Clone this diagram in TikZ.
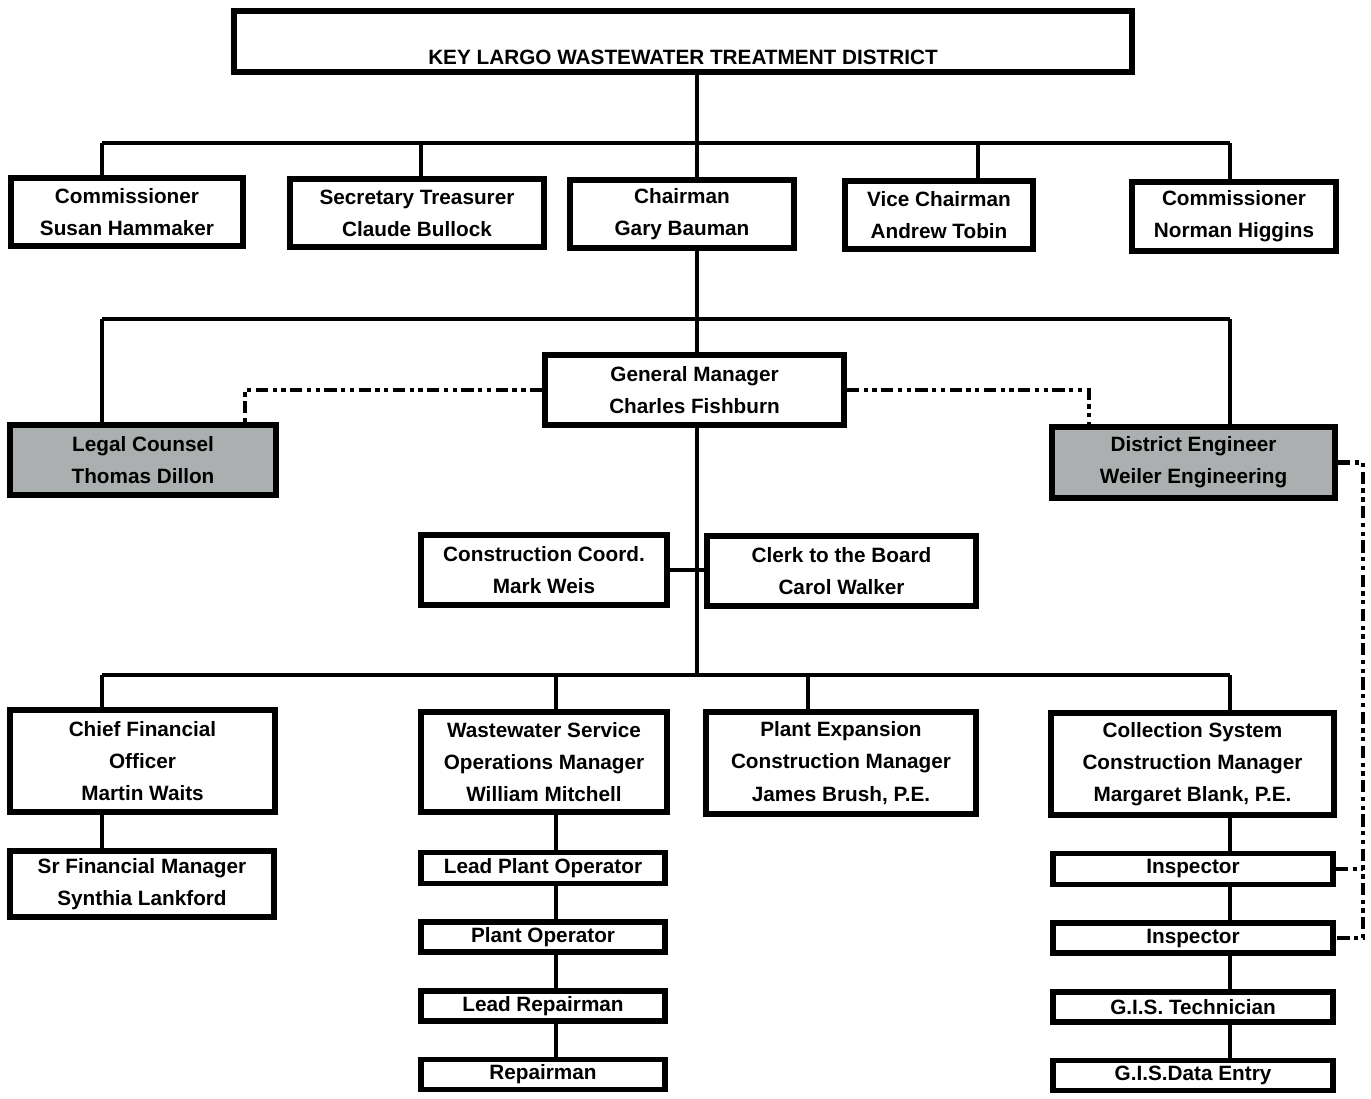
\documentclass[tikz,border=0pt]{standalone}
\usepackage{fontspec}
\setmainfont{Liberation Sans}
\usepackage{xcolor}
\usetikzlibrary{positioning}

\definecolor{counselgray}{RGB}{172,175,175}

\tikzset{
    box/.style={rectangle, draw, line width=3.2pt, fill=white, inner sep=0pt, align=center,
        font=\bfseries\fontsize{11.8}{18.3}\selectfont},
    shaded/.style={box, fill=counselgray},
    sz/.style 2 args={minimum width=(#1-6)*0.02cm, minimum height=(#2-6)*0.02cm},
    wire/.style={line width=2.4pt},
    advisory/.style={line width=2.4pt, dash pattern=on 7pt off 2.5pt on 2.5pt off 2.5pt on 2.5pt off 2.5pt},
}

\begin{document}
\begin{tikzpicture}[x=0.02cm, y=-0.02cm, node distance=0.66cm]
    \useasboundingbox (0,0) rectangle (1371,1098);

    \node[box, sz={904}{67}, text height=1.07cm, text depth=0.15cm] (district) at (683,41.5) {KEY LARGO WASTEWATER TREATMENT DISTRICT};

    \node[box, sz={238}{74}] (commA) at (127,212) {Commissioner\\Susan Hammaker};
    \node[box, sz={260}{74}] (secretary) at (417,213) {Secretary Treasurer\\Claude Bullock};
    \node[box, sz={230}{74}] (chairman) at (682,214) {Chairman\\Gary Bauman};
    \node[box, sz={194}{74}] (vicechair) at (939,215) {Vice Chairman\\Andrew Tobin};
    \node[box, sz={210}{75}] (commB) at (1234,216.5) {Commissioner\\Norman Higgins};

    \node[shaded, sz={272}{76}] (counsel) at (143,460) {Legal Counsel\\Thomas Dillon};
    \node[box, sz={305}{76}] (gm) at (694.5,390) {General Manager\\Charles Fishburn};
    \node[shaded, sz={289}{77}] (engineer) at (1193.5,462.5) {District Engineer\\Weiler Engineering};

    \node[box, sz={252}{76}] (coord) at (544,570) {Construction Coord.\\Mark Weis};
    \node[box, sz={275}{76}] (clerk) at (841.5,571) {Clerk to the Board\\Carol Walker};

    \node[box, sz={271}{108}] (cfo) at (142.5,761) {Chief Financial\\Officer\\Martin Waits};
    \node[box, sz={252}{106}] (wastewater) at (544,762) {Wastewater Service\\Operations Manager\\William Mitchell};
    \node[box, sz={276}{108}] (expansion) at (841,763) {Plant Expansion\\Construction Manager\\James Brush, P.E.};
    \node[box, sz={289}{108}] (collection) at (1192.5,764) {Collection System\\Construction Manager\\Margaret Blank, P.E.};

    \node[box, sz={270}{72}] (srfinance) at (142,884) {Sr Financial Manager\\Synthia Lankford};

    \node[box, sz={250}{37}] (leadop) at (543,868) {Lead Plant Operator};
    \node[box, sz={250}{36}, below=of leadop] (plantop) {Plant Operator};
    \node[box, sz={250}{36}, below=of plantop] (leadrep) {Lead Repairman};
    \node[box, sz={250}{36}, below=of leadrep] (repairman) {Repairman};

    \node[box, sz={286}{37}] (inspA) at (1193,869) {Inspector};
    \node[box, sz={286}{36}, below=of inspA] (inspB) {Inspector};
    \node[box, sz={286}{36}, below=of inspB] (gistech) {G.I.S. Technician};
    \node[box, sz={286}{36}, below=of gistech] (gisentry) {G.I.S.Data Entry};

    \coordinate (spine) at (697,143);
    \draw[wire] (district.south -| spine) -- (chairman.north -| spine);
    \foreach \x/\n in {102/commA, 421/secretary, 978/vicechair, 1230/commB}
        \draw[wire] (\x,143) coordinate (d\n) -- (d\n |- \n.north);
    \draw[wire] (dcommA) -- (dcommB);

    \draw[wire] (chairman.south -| spine) -- (gm.north -| spine);
    \foreach \x/\n in {102/counsel, 1230/engineer}
        \draw[wire] (\x,319) coordinate (d\n) -- (d\n |- \n.north);
    \draw[wire] (dcounsel) -- (dengineer);

    \draw[advisory] (gm.west) -| ([xshift=-0.68cm]counsel.north east);
    \draw[advisory] (gm.east) -| ([xshift=0.8cm]engineer.north west);
    \draw[advisory] (engineer.east) -| ([xshift=0.54cm]inspB.east) -- (inspB.east);
    \draw[advisory] (inspA.east) -- ([xshift=0.54cm]inspA.east);

    \draw[wire] (gm.south -| spine) -- (spine |- 0,675);
    \draw[wire] (coord.east) -- (coord.east -| clerk.west);
    \foreach \x/\n in {102/cfo, 556/wastewater, 808/expansion, 1230/collection}
        \draw[wire] (\x,675) coordinate (d\n) -- (d\n |- \n.north);
    \draw[wire] (dcfo) -- (dcollection);

    \draw[wire] (dcfo |- cfo.south) -- (dcfo |- srfinance.north);
    \foreach \a/\b in {wastewater/leadop, leadop/plantop, plantop/leadrep, leadrep/repairman}
        \draw[wire] (dwastewater |- \a.south) -- (dwastewater |- \b.north);
    \foreach \a/\b in {collection/inspA, inspA/inspB, inspB/gistech, gistech/gisentry}
        \draw[wire] (dcollection |- \a.south) -- (dcollection |- \b.north);
\end{tikzpicture}
\end{document}
